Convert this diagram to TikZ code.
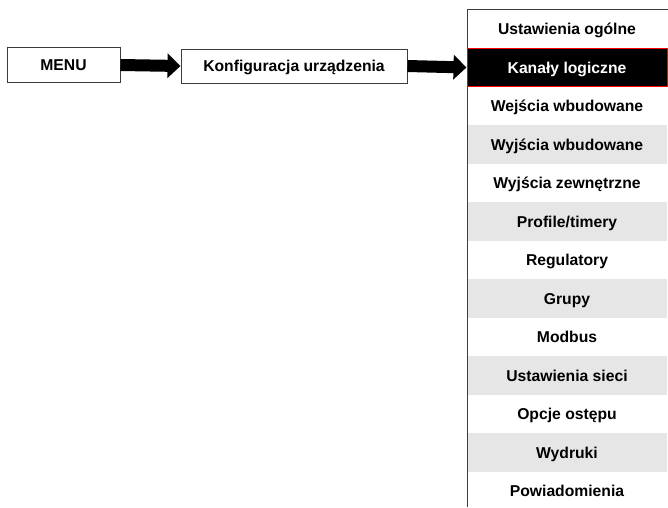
\documentclass[tikz,border=0pt]{standalone}
\usepackage{fontspec}
\setmainfont{Liberation Sans}
\usetikzlibrary{arrows.meta}
\definecolor{rowgrey}{RGB}{230,230,230}
\definecolor{boxline}{RGB}{60,60,60}
\tikzset{
  lbl/.style={font=\fontsize{15.7}{18}\selectfont\bfseries, inner sep=0pt, text height=11.2pt, text depth=0pt},
  topbox/.style={lbl, draw=boxline, line width=1pt, fill=white},
  rowbox/.style={lbl, minimum width=200pt, minimum height=38.5pt, anchor=center},
  whiterow/.style={rowbox, fill=white},
  greyrow/.style={rowbox, fill=rowgrey},
  selrow/.style={rowbox, fill=black, draw=red, line width=1pt, text=white},
  bigarrow/.style={line width=12pt, -{Triangle[length=13pt,width=24pt]}}
}
\begin{document}
\begin{tikzpicture}[x=1pt,y=-1pt]
\useasboundingbox (0,0) rectangle (668,507);
% top boxes
\node[topbox, minimum width=113pt, minimum height=35pt] (menu) at (63.5,65) {MENU};
\node[topbox, minimum width=226pt, minimum height=34pt] (konf) at (294,66) {Konfiguracja urządzenia};
% list rows
\node[whiterow] (r1) at (567,29) {Ustawienia ogólne};
\node[whiterow] (r3) at (567,106) {Wejścia wbudowane};
\node[greyrow] (r4) at (567,144.5) {Wyjścia wbudowane};
\node[whiterow] (r5) at (567,183) {Wyjścia zewnętrzne};
\node[greyrow] (r6) at (567,221.5) {Profile/timery};
\node[whiterow] (r7) at (567,260) {Regulatory};
\node[greyrow] (r8) at (567,298.5) {Grupy};
\node[whiterow] (r9) at (567,337) {Modbus};
\node[greyrow] (r10) at (567,375.5) {Ustawienia sieci};
\node[whiterow] (r11) at (567,414) {Opcje ostępu};
\node[greyrow] (r12) at (567,452.5) {Wydruki};
\node[whiterow] (r13) at (567,491) {Powiadomienia};
% panel frame
\coordinate (ptop) at (467,9);
\coordinate (pbot) at (467,507);
\coordinate (pright) at (668,9);
\draw[boxline, line width=1pt] (pright) -- (ptop) -- (pbot);
% selected row
\node[selrow] (r2) at (567,67.5) {Kanały logiczne};
% arrows
\draw[bigarrow] (menu.east) -- (konf.west);
\draw[bigarrow] (konf.east) -- (r2.west);
\end{tikzpicture}
\end{document}
